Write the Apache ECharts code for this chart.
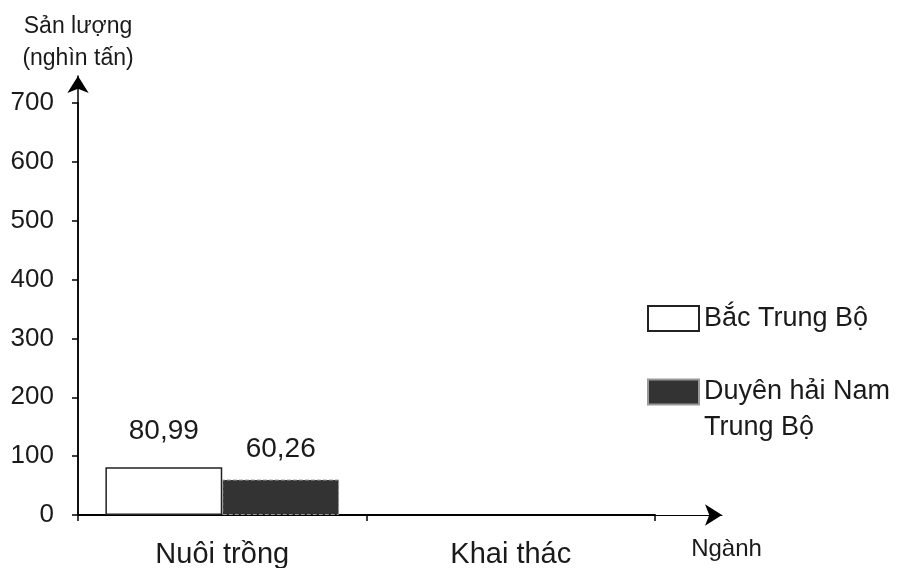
<!DOCTYPE html>
<html>
<head>
<meta charset="utf-8">
<script src="https://cdn.jsdelivr.net/npm/echarts@6/dist/echarts.min.js"></script>
<style>
html,body{margin:0;padding:0;background:#fff;}
#chart{width:909px;height:568px;}
</style>
</head>
<body>
<div id="chart"></div>
<script>
// ---- data ----
const categories = ['Nuôi trồng', 'Khai thác'];
const seriesNames = ['Bắc Trung Bộ', 'Duyên hải Nam Trung Bộ'];
const bacTrungBo = [80.99, null];
const duyenHaiNamTrungBo = [60.26, null];
const yMin = 0, yMax = 700, yInterval = 100;
const yAxisName = 'Sản lượng\n(nghìn tấn)';
const xAxisName = 'Ngành';

const FONT = '"Liberation Sans", Arial, sans-serif';
const TXT = '#1a1a1a';
const fmt = p => (p.value == null ? '' : p.value.toFixed(2).replace('.', ','));

const chart = echarts.init(document.getElementById('chart'), null, {renderer: 'canvas'});
chart.setOption({
  animation: false,
  backgroundColor: '#fff',
  textStyle: {fontFamily: FONT, color: TXT},
  grid: [
    {left: 78, top: 103, right: 254, bottom: 53, containLabel: false, outerBoundsMode: 'none'},
    {left: 78, top: 76, right: 187, bottom: 53, containLabel: false, outerBoundsMode: 'none'}
  ],
  legend: [
    {
      data: [seriesNames[0]],
      icon: 'rect',
      orient: 'vertical', left: 647, top: 305, padding: 0,
      itemWidth: 51, itemHeight: 25, itemGap: 0,
      textStyle: {fontFamily: FONT, fontSize: 27, color: TXT}
    },
    {
      data: [seriesNames[1]],
      icon: 'rect',
      orient: 'vertical', left: 647, top: 338, padding: 0,
      itemWidth: 51, itemHeight: 25, itemGap: 0,
      formatter: () => '\nDuyên hải Nam\nTrung Bộ',
      textStyle: {fontFamily: FONT, fontSize: 27, color: TXT, lineHeight: 36}
    }
  ],
  xAxis: [
    {
      type: 'category', data: categories, gridIndex: 0,
      boundaryGap: true,
      name: xAxisName, nameLocation: 'end',
      nameGap: 0,
      nameTextStyle: {fontFamily: FONT, fontSize: 24, color: TXT, align: 'center', verticalAlign: 'top', padding: [22, 0, 0, 143]},
      axisLine: {show: true, lineStyle: {color: '#000', width: 2}},
      axisTick: {show: true, alignWithLabel: false, length: 6, inside: false, lineStyle: {color: '#000', width: 1.5}},
      axisLabel: {fontFamily: FONT, fontSize: 29, color: TXT, margin: 25},
      splitLine: {show: false}
    },
    {
      type: 'value', gridIndex: 1, min: 0, max: 1,
      axisLine: {show: true, symbol: ['none', 'arrow'], symbolSize: [16, 17], lineStyle: {color: '#000', width: 1}},
      axisTick: {show: false}, axisLabel: {show: false}, splitLine: {show: false}
    }
  ],
  yAxis: [
    {
      type: 'value', gridIndex: 0, min: yMin, max: yMax, interval: yInterval,
      name: yAxisName, nameLocation: 'end', nameGap: 28,
      nameTextStyle: {fontFamily: FONT, fontSize: 23, color: TXT, align: 'center', verticalAlign: 'bottom', lineHeight: 32},
      axisLine: {show: true, lineStyle: {color: '#000', width: 1.5}},
      axisTick: {show: true, length: 6, inside: false, lineStyle: {color: '#000', width: 1.5}},
      axisLabel: {fontFamily: FONT, fontSize: 26, color: TXT, margin: 24},
      splitLine: {show: false}
    },
    {
      type: 'value', gridIndex: 1, min: 0, max: 1,
      axisLine: {show: true, symbol: ['none', 'arrow'], symbolSize: [16, 17], lineStyle: {color: '#000', width: 1.5}},
      axisTick: {show: false}, axisLabel: {show: false}, splitLine: {show: false}
    }
  ],
  series: [
    {
      name: seriesNames[0], type: 'bar', xAxisIndex: 0, yAxisIndex: 0,
      data: bacTrungBo,
      barGap: '0%', barCategoryGap: '19%',
      itemStyle: {color: '#fff', borderColor: '#222', borderWidth: 1.5},
      label: {show: true, position: 'top', distance: 22, fontFamily: FONT, fontSize: 28, color: TXT, formatter: fmt}
    },
    {
      name: seriesNames[1], type: 'bar', xAxisIndex: 0, yAxisIndex: 0,
      data: duyenHaiNamTrungBo,
      barGap: '0%', barCategoryGap: '19%',
      itemStyle: {color: '#333', borderColor: '#999', borderWidth: 1, borderType: 'dashed'},
      label: {show: true, position: 'top', distance: 16, fontFamily: FONT, fontSize: 28, color: TXT, formatter: fmt}
    }
  ]
});
</script>
</body>
</html>
